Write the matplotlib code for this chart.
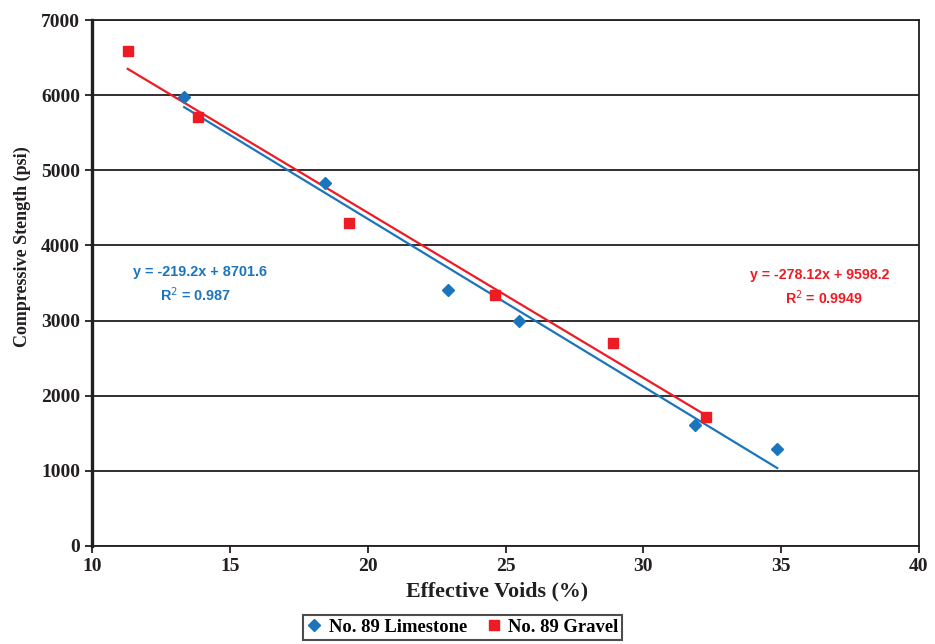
import numpy as np
import matplotlib
matplotlib.use('Agg')
import matplotlib.pyplot as plt

# values
limestone_voids = [13.33, 18.45, 22.92, 25.49, 31.89, 34.87]
limestone_strength = [5975, 4831, 3407, 2994, 1610, 1291]
gravel_voids = [11.28, 13.82, 19.32, 24.62, 28.91, 32.29]
gravel_strength = [6588, 5713, 4299, 3345, 2702, 1717]

limestone_eq = ['y = -219.2x + 8701.6', 'R$^2$ = 0.987']
gravel_eq = ['y = -278.12x + 9598.2', 'R$^2$ = 0.9949']

BLUE = '#1B75BC'
RED = '#ED1C24'
SERIF = 'Liberation Serif'
SANS = 'Liberation Sans'

fig = plt.figure(figsize=(9.35, 6.44), dpi=100)
ax = fig.add_axes([0.0989, 0.1522, 0.8835, 0.8167])

ax.set_xlim(10, 40)
ax.set_ylim(0, 7000)
ax.set_xticks(np.arange(10, 41, 5))
ax.set_yticks(np.arange(0, 7001, 1000))
ax.yaxis.grid(True, color='#231F20', linewidth=1.3)
ax.set_axisbelow(True)

for side in ['top', 'right', 'bottom']:
	ax.spines[side].set_linewidth(1.3)
	ax.spines[side].set_color('#231F20')
ax.spines['left'].set_linewidth(2.4)
ax.spines['left'].set_color('#231F20')
ax.tick_params(axis='both', direction='out', length=5, width=1.3, color='#231F20', pad=4)

# linear trendlines fitted to each series, drawn over the data range
for xs, ys, c in [(limestone_voids, limestone_strength, BLUE), (gravel_voids, gravel_strength, RED)]:
	m, b = np.polyfit(xs, ys, 1)
	xx = np.array([min(xs), max(xs)])
	ax.plot(xx, m * xx + b, color=c, linewidth=1.6, zorder=3)

ax.plot(limestone_voids, limestone_strength, 'D', color=BLUE, markersize=6.5, label='No. 89 Limestone', zorder=4)
ax.plot(gravel_voids, gravel_strength, 's', color=RED, markersize=6.5, label='No. 89 Gravel', zorder=4)

for lbl in ax.get_xticklabels() + ax.get_yticklabels():
	lbl.set_family(SERIF)
	lbl.set_fontweight('bold')
	lbl.set_fontsize(14)
	lbl.set_color('#231F20')

ax.set_xlabel('Effective Voids (%)', family=SERIF, fontweight='bold', fontsize=15.8, color='#231F20', labelpad=4)
ax.xaxis.label.set_x(0.49)
ax.set_ylabel('Compressive Stength (psi)', family=SERIF, fontweight='bold', fontsize=13, color='#231F20', labelpad=7)
ax.yaxis.label.set_y(0.57)

ax.text(13.9, 3645, limestone_eq[0], color=BLUE, family=SANS, fontweight='bold', fontsize=10.4, ha='center', va='center')
ax.text(13.75, 3340, limestone_eq[1], color=BLUE, family=SANS, fontweight='bold', fontsize=10.4, ha='center', va='center')
ax.text(36.4, 3600, gravel_eq[0], color=RED, family=SANS, fontweight='bold', fontsize=10.2, ha='center', va='center')
ax.text(36.55, 3300, gravel_eq[1], color=RED, family=SANS, fontweight='bold', fontsize=10.2, ha='center', va='center')

leg = fig.legend(loc='center', bbox_to_anchor=(0.495, 0.0257), ncol=2, frameon=True, fancybox=False,
	edgecolor='#231F20', handlelength=0.8, handletextpad=0.4, columnspacing=1.0, borderpad=0.2,
	prop={'family': SERIF, 'weight': 'bold', 'size': 13.4})
leg.get_frame().set_linewidth(1.5)

fig.savefig('out.png', dpi=100)
